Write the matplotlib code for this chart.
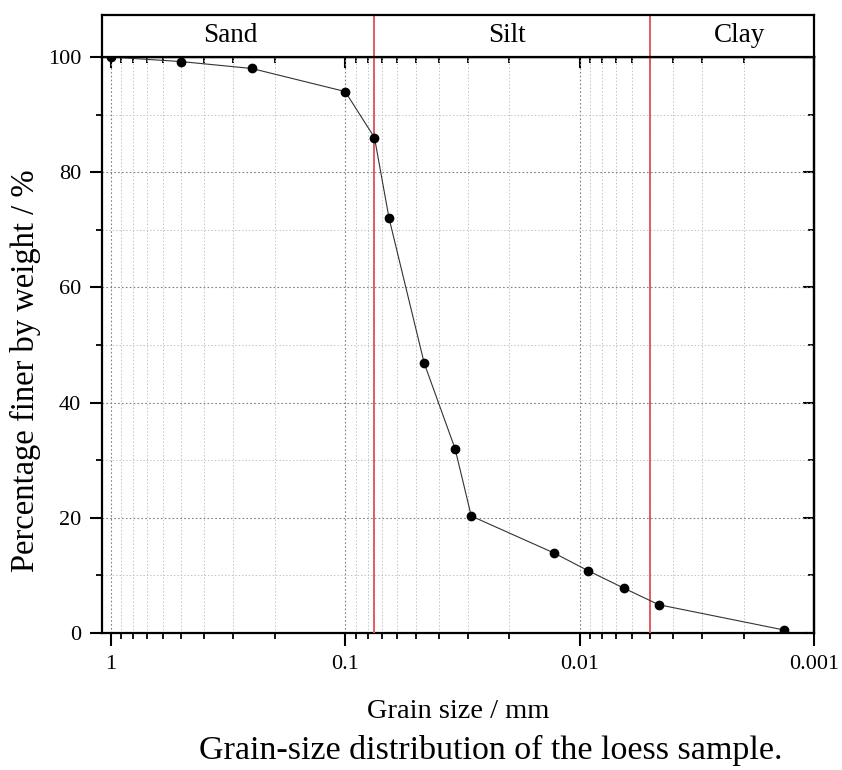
import numpy as np
import matplotlib.pyplot as plt
from matplotlib.ticker import LogLocator, FixedLocator, FixedFormatter, MultipleLocator, NullFormatter

plt.rcParams['font.family'] = ['Liberation Serif', 'DejaVu Serif']

# Grain size (mm) and cumulative percentage passing
size_mm = [1.0, 0.5, 0.25, 0.1, 0.075, 0.065, 0.046, 0.034, 0.029, 0.0129, 0.0092, 0.0065, 0.0046, 0.00134]
finer_pct = [100.0, 99.2, 98.0, 94.0, 86.0, 72.0, 46.8, 32.0, 20.3, 13.9, 10.8, 7.8, 4.9, 0.5]

# Soil class boundaries (mm) and zone labels
boundaries = [0.075, 0.005]
zone_names = ['Sand', 'Silt', 'Clay']
zone_centers = [0.31, 0.0205, 0.00208]

x_ticks = [1, 0.1, 0.01, 0.001]
x_labels = ['1', '0.1', '0.01', '0.001']

fig = plt.figure(figsize=(8.42, 7.70), dpi=100)
ax = fig.add_axes([0.121, 0.178, 0.846, 0.748])
hdr = fig.add_axes([0.121, 0.926, 0.846, 0.0545])

xlim = (1.09, 0.001)
red = '#e25c60'

# main plot
ax.set_xscale('log')
ax.set_xlim(*xlim)
ax.set_ylim(0, 100)

ax.grid(which='major', color='#808080', linestyle=(0, (1.5, 2)), linewidth=0.8)
ax.grid(which='minor', color='#c4c4c4', linestyle=(0, (1.5, 2)), linewidth=0.7)

for b in boundaries:
    ax.axvline(b, color=red, linewidth=1.4, zorder=3)

ax.plot(size_mm, finer_pct, color='#333333', linewidth=0.8, marker='o',
        markersize=6, markerfacecolor='black', markeredgecolor='black', zorder=4)

ax.xaxis.set_major_locator(FixedLocator(x_ticks))
ax.xaxis.set_major_formatter(FixedFormatter(x_labels))
ax.xaxis.set_minor_locator(LogLocator(base=10, subs=np.arange(2, 10)))
ax.xaxis.set_minor_formatter(NullFormatter())
ax.yaxis.set_major_locator(MultipleLocator(20))
ax.yaxis.set_minor_locator(MultipleLocator(10))

ax.tick_params(axis='both', which='major', labelsize=16, width=1.5, length=9, direction='out')
ax.tick_params(axis='both', which='minor', width=1.3, length=4.5, direction='out')
ax.tick_params(axis='x', which='both', pad=7)
ax.tick_params(axis='y', which='both', pad=6)

# inward ticks on top and right
top = ax.secondary_xaxis('top', functions=(lambda v: v, lambda v: v))
top.xaxis.set_major_locator(FixedLocator(x_ticks))
top.xaxis.set_minor_locator(LogLocator(base=10, subs=np.arange(2, 10)))
top.xaxis.set_major_formatter(NullFormatter())
top.xaxis.set_minor_formatter(NullFormatter())
top.tick_params(which='major', direction='in', length=8, width=1.5)
top.tick_params(which='minor', direction='in', length=4, width=1.3)

right = ax.secondary_yaxis('right', functions=(lambda v: v, lambda v: v))
right.yaxis.set_major_locator(MultipleLocator(20))
right.yaxis.set_minor_locator(MultipleLocator(10))
right.yaxis.set_major_formatter(NullFormatter())
right.tick_params(which='major', direction='in', length=8, width=1.5)
right.tick_params(which='minor', direction='in', length=4, width=1.3)

for sp in list(ax.spines.values()) + [top.spines['top'], right.spines['right']]:
    sp.set_linewidth(1.6)

fig.text(458 / 842, 1 - 718 / 770, 'Grain size / mm', ha='center', va='baseline', fontsize=20.5)
fig.text(25 / 842, 1 - 371 / 770, 'Percentage finer by weight / %', rotation=90,
         ha='center', va='center', fontsize=23.5)

# header band with zone names
hdr.set_xscale('log')
hdr.set_xlim(*xlim)
hdr.set_ylim(0, 1)
hdr.set_xticks([])
hdr.set_yticks([])
hdr.minorticks_off()
for sp in hdr.spines.values():
    sp.set_linewidth(1.6)
for b in boundaries:
    hdr.axvline(b, color=red, linewidth=1.4)
for name, xc in zip(zone_names, zone_centers):
    hdr.text(xc, 0.5, name, ha='center', va='center', fontsize=19.5)

fig.text(491 / 842, 1 - 759 / 770, 'Grain-size distribution of the loess sample.',
         ha='center', va='baseline', fontsize=24.5)

fig.savefig('out.png', dpi=100)
